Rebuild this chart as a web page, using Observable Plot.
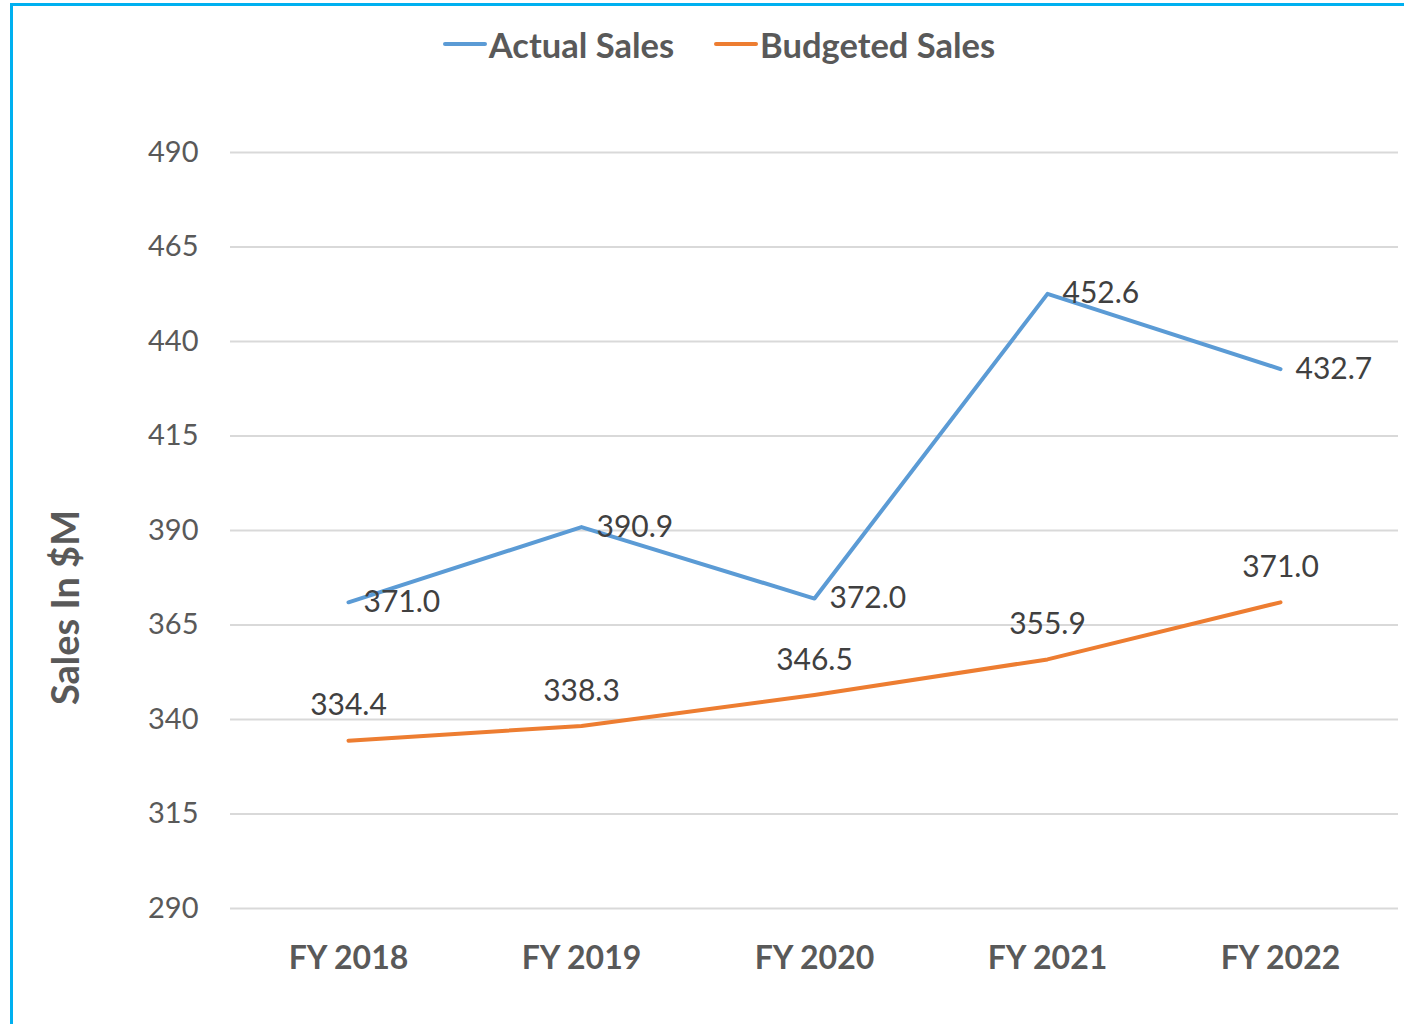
<!DOCTYPE html>
<html>
<head>
<meta charset="utf-8">
<script src="https://cdn.jsdelivr.net/npm/d3@7"></script>
<script src="https://cdn.jsdelivr.net/npm/@observablehq/plot@0.6"></script>
<style>
  html, body { margin: 0; padding: 0; background: #fff; overflow: hidden; width: 1404px; height: 1024px; }
  #wrap { position: relative; width: 1404px; height: 1024px; font-family: Lato, "Open Sans", sans-serif; }
  #frame { position: absolute; left: 10px; top: 3px; width: 1500px; height: 1100px; border: 3px solid #00b0f0; pointer-events: none; box-sizing: border-box; }
  #legend { height: 80px; display: flex; justify-content: center; align-items: center; gap: 40px; padding-left: 34px; padding-top: 8px; box-sizing: border-box; font-weight: bold; font-size: 34.5px; color: #595959; }
  .item { display: flex; align-items: center; }
  .sw { width: 44px; height: 4px; border-radius: 2px; margin-right: 2px; }
  #chart svg { display: block; }
</style>
</head>
<body>
<div id="wrap">
  <div id="frame"></div>
  <div id="legend"></div>
  <div id="chart"></div>
</div>
<script>
const years = ["FY 2018", "FY 2019", "FY 2020", "FY 2021", "FY 2022"];
const actualSales = [371.0, 390.9, 372.0, 452.6, 432.7];
const budgetedSales = [334.4, 338.3, 346.5, 355.9, 371.0];
const yTicks = [290, 315, 340, 365, 390, 415, 440, 465, 490];
const seriesNames = ["Actual Sales", "Budgeted Sales"];
const seriesColors = ["#5b9bd5", "#ed7d31"];
const yTitle = "Sales In $M";

const actual = years.map((y, i) => ({year: y, value: actualSales[i]}));
const budget = years.map((y, i) => ({year: y, value: budgetedSales[i]}));

// legend
const legend = document.getElementById("legend");
seriesNames.forEach((n, i) => {
  const it = document.createElement("div");
  it.className = "item";
  const sw = document.createElement("div");
  sw.className = "sw";
  sw.style.background = seriesColors[i];
  const t = document.createElement("span");
  t.textContent = n;
  it.appendChild(sw); it.appendChild(t);
  legend.appendChild(it);
});

const fmt = d => d.toFixed(1);

const chart = Plot.plot({
  width: 1404,
  height: 944,
  marginLeft: 230,
  marginRight: 6,
  marginTop: 72,
  marginBottom: 116,
  style: {fontFamily: "Lato, 'Open Sans', sans-serif", background: "#fff"},
  x: {type: "point", domain: years, padding: 0.5},
  y: {domain: [290, 490]},
  marks: [
    Plot.gridY(yTicks, {stroke: "#d9d9d9", strokeOpacity: 1, strokeWidth: 2}),
    Plot.axisY(yTicks, {tickSize: 0, tickPadding: 32, fontSize: 29, color: "#595959", label: null}),
    Plot.axisX(years, {tickSize: 0, tickPadding: 38, fontSize: 32, fontWeight: "bold", color: "#595959", label: null}),
    Plot.text([yTitle], {frameAnchor: "left", textAnchor: "middle", rotate: -90, dx: -164, dy: 77, fontSize: 38, fontWeight: "bold", fill: "#595959"}),
    Plot.line(budget, {x: "year", y: "value", stroke: seriesColors[1], strokeWidth: 4, strokeLinejoin: "round", strokeLinecap: "round"}),
    Plot.line(actual, {x: "year", y: "value", stroke: seriesColors[0], strokeWidth: 4, strokeLinejoin: "round", strokeLinecap: "round"}),
    Plot.text(actual, {x: "year", y: "value", text: d => fmt(d.value), textAnchor: "start", dx: 15, fontSize: 30, fill: "#404040"}),
    Plot.text(budget, {x: "year", y: "value", text: d => fmt(d.value), dy: -35, fontSize: 30, fill: "#404040"})
  ]
});
document.getElementById("chart").appendChild(chart);
</script>
</body>
</html>
